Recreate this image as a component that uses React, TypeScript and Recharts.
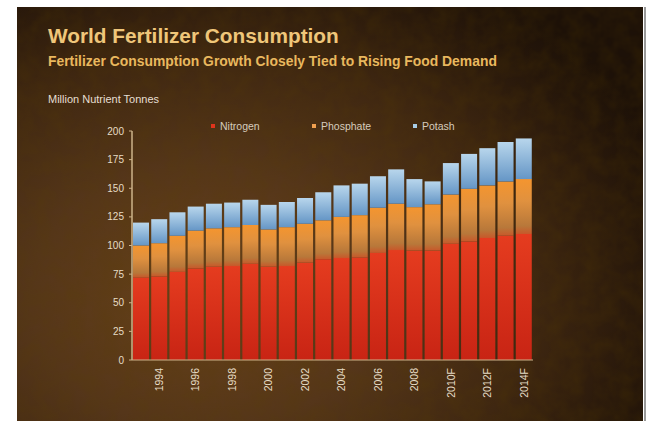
import React from "react";
import { BarChart, Bar, XAxis, YAxis } from "recharts";

const years = [
  "1993", "1994", "1995", "1996", "1997", "1998", "1999", "2000", "2001", "2002", "2003",
  "2004", "2005", "2006", "2007", "2008", "2009", "2010F", "2011F", "2012F", "2013F", "2014F",
];
const nitrogen = [72, 73, 77, 80, 81.5, 82, 84, 81.5, 82, 85, 88, 89, 89.5, 93.5, 96, 95.5, 95.5, 101.5, 103.5, 106.5, 108.5, 110];
const phosphate = [28, 29, 31.5, 33, 33.5, 34, 34, 32.5, 34, 34, 34, 36, 37, 39.5, 40.5, 38, 40.5, 43, 46, 46, 47.5, 48];
const potash = [20, 21, 20.5, 21, 21.5, 21.5, 22, 21.5, 22, 22.5, 24.5, 27.5, 27.5, 27.5, 30, 24.5, 20, 27.5, 30.5, 32.5, 34.5, 35.5];
const yTicks = [0, 25, 50, 75, 100, 125, 150, 175, 200];
const seriesNames = ["Nitrogen", "Phosphate", "Potash"];

const data = years.map((y, i) => ({
  year: y,
  nitrogen: nitrogen[i],
  phosphate: phosphate[i],
  potash: potash[i],
}));

const cream = "#e6dcc6";
const axisColor = "#cdb38a";
const font = "'Liberation Sans', Arial, sans-serif";

const XTick = (props: any) => {
  const { x, y, payload, index } = props;
  if (index % 2 === 0) return <g />;
  return (
    <g transform={`translate(${x},${y + 8})`}>
      <text
        transform="rotate(-90)"
        textAnchor="end"
        x={0}
        y={0}
        dy="0.35em"
        fill={cream}
        fontSize={10.5}
        fontFamily={font}
      >
        {payload.value}
      </text>
    </g>
  );
};

const legendColors = ["#e0341c", "#f0a050", "#a8cde6"];

export default function App() {
  return (
    <div style={{ position: "absolute", left: 0, top: 0, width: 649, height: 421, background: "#ffffff", overflow: "hidden" }}>
      <div
        style={{
          position: "absolute",
          left: 17,
          top: 7,
          width: 626,
          height: 414,
          background:
            "radial-gradient(ellipse 80% 90% at 30% 70%, #684219 0%, #55361a 35%, #3f2711 65%, #25160a 90%, #1d1108 100%)",
        }}
      />
      <svg style={{ position: "absolute", left: 17, top: 7 }} width={626} height={414}>
        <filter id="noise">
          <feTurbulence type="fractalNoise" baseFrequency="0.06" numOctaves={3} seed={4} />
          <feColorMatrix type="matrix" values="0 0 0 0 0.1  0 0 0 0 0.05  0 0 0 0 0  0 0 0 0.9 -0.25" />
        </filter>
        <rect width={626} height={414} filter="url(#noise)" opacity={0.4} />
      </svg>
      <div style={{ position: "absolute", left: 644, top: 7, width: 2, height: 414, background: "#9a9a9a" }} />
      <div
        style={{
          position: "absolute",
          left: 48,
          top: 24,
          fontFamily: font,
          fontWeight: "bold",
          fontSize: 20.8,
          color: "#efc67a",
          whiteSpace: "nowrap",
        }}
      >
        World Fertilizer Consumption
      </div>
      <div
        style={{
          position: "absolute",
          left: 48,
          top: 53,
          fontFamily: font,
          fontWeight: "bold",
          fontSize: 13.9,
          color: "#e9b85e",
          whiteSpace: "nowrap",
        }}
      >
        Fertilizer Consumption Growth Closely Tied to Rising Food Demand
      </div>
      <div
        style={{
          position: "absolute",
          left: 48,
          top: 93,
          fontFamily: font,
          fontSize: 11,
          color: "#e6dfd2",
          whiteSpace: "nowrap",
        }}
      >
        Million Nutrient Tonnes
      </div>
      <div style={{ position: "absolute", left: 211, top: 120, width: 320, height: 14 }}>
        {seriesNames.map((n, i) => (
          <div
            key={n}
            style={{
              position: "absolute",
              left: i * 101,
              top: 0,
              display: "flex",
              alignItems: "center",
              fontFamily: font,
              fontSize: 10.5,
              color: "#d6ccbc",
              whiteSpace: "nowrap",
            }}
          >
            <span style={{ display: "inline-block", width: 4, height: 4, background: legendColors[i], marginRight: 5 }} />
            {n}
          </div>
        ))}
      </div>
      <div style={{ position: "absolute", left: 0, top: 0 }}>
        <BarChart
          width={649}
          height={421}
          data={data}
          margin={{ top: 131, left: 92, right: 116, bottom: 16 }}
          barCategoryGap={1}
        >
          <defs>
            <linearGradient id="gN" x1="0" y1="0" x2="0" y2="1">
              <stop offset="0%" stopColor="#e53c1f" />
              <stop offset="100%" stopColor="#c82414" />
            </linearGradient>
            <linearGradient id="gP" x1="0" y1="0" x2="0" y2="1">
              <stop offset="0%" stopColor="#f4952f" />
              <stop offset="40%" stopColor="#e0913f" />
              <stop offset="85%" stopColor="#b8783a" />
              <stop offset="100%" stopColor="#c8582a" />
            </linearGradient>
            <linearGradient id="gK" x1="0" y1="0" x2="0" y2="1">
              <stop offset="0%" stopColor="#b8d6ec" />
              <stop offset="100%" stopColor="#6596c6" />
            </linearGradient>
          </defs>
          <XAxis
            dataKey="year"
            interval={0}
            tick={<XTick />}
            tickLine={false}
            tickSize={0}
            tickMargin={0}
            height={45}
            axisLine={{ stroke: axisColor, strokeWidth: 1 }}
          />
          <YAxis
            domain={[0, 200]}
            ticks={yTicks}
            width={40}
            tickSize={3}
            tickMargin={5}
            axisLine={{ stroke: axisColor, strokeWidth: 1.5 }}
            tickLine={{ stroke: axisColor }}
            tick={{ fill: cream, fontSize: 10, fontFamily: font }}
          />
          <Bar dataKey="nitrogen" name="Nitrogen" stackId="a" fill="url(#gN)" isAnimationActive={false} />
          <Bar dataKey="phosphate" name="Phosphate" stackId="a" fill="url(#gP)" isAnimationActive={false} />
          <Bar dataKey="potash" name="Potash" stackId="a" fill="url(#gK)" isAnimationActive={false} />
        </BarChart>
      </div>
    </div>
  );
}
